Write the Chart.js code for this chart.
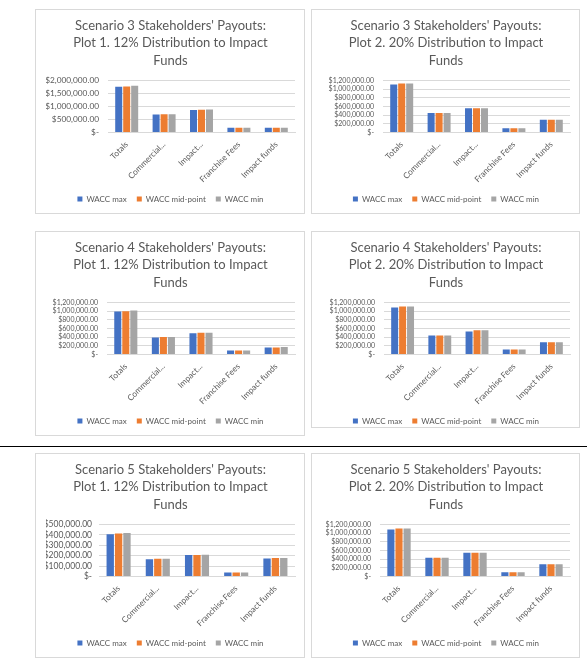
<!DOCTYPE html>
<html>
<head>
<meta charset="utf-8">
<script src="https://cdn.jsdelivr.net/npm/chart.js@4.4.1/dist/chart.umd.min.js"></script>
<style>
  body { margin: 0; background: #fff; }
  #page { position: relative; width: 587px; height: 669px; overflow: hidden; }
  .box { position: absolute; border: 1px solid #d9d9d9; box-sizing: border-box; }
  .box canvas { position: absolute; left: 0; top: 0; }
  .rule { position: absolute; left: 0; top: 446px; width: 587px; border-top: 1.5px solid #000; }
</style>
</head>
<body>
<div id="page">
  <div class="box" style="left:35px;top:9px;width:270px;height:205px"><canvas id="s3p1" width="268" height="203"></canvas></div>
  <div class="box" style="left:311px;top:9px;width:269px;height:205px"><canvas id="s3p2" width="267" height="203"></canvas></div>
  <div class="box" style="left:35px;top:231px;width:270px;height:205px"><canvas id="s4p1" width="268" height="203"></canvas></div>
  <div class="box" style="left:311px;top:231px;width:269px;height:197px"><canvas id="s4p2" width="267" height="203"></canvas></div>
  <div class="rule"></div>
  <div class="box" style="left:35px;top:453px;width:270px;height:205px"><canvas id="s5p1" width="268" height="203"></canvas></div>
  <div class="box" style="left:311px;top:453px;width:269px;height:205px"><canvas id="s5p2" width="267" height="203"></canvas></div>
</div>
<script>
const categories = ['Totals', 'Commercial...', 'Impact...', 'Franchise Fees', 'Impact funds'];
const seriesNames = ['WACC max', 'WACC mid-point', 'WACC min'];
const seriesColors = ['#4472C4', '#ED7D31', '#A5A5A5'];

const plot1Title = ['Plot 1. 12% Distribution to Impact', 'Funds'];
const plot2Title = ['Plot 2. 20% Distribution to Impact', 'Funds'];

// Scenario 3
const s3p1Max = [1763000, 697000, 868000, 180000, 180000];
const s3p1Mid = [1768000, 700000, 878000, 182000, 182000];
const s3p1Min = [1795000, 705000, 885000, 182000, 182000];

const s3p2Max = [1105000, 450000, 560000, 100000, 295000];
const s3p2Mid = [1130000, 452000, 562000, 100000, 295000];
const s3p2Min = [1130000, 452000, 562000, 100000, 295000];

// Scenario 4
const s4p1Max = [990000, 390000, 490000, 92000, 160000];
const s4p1Mid = [1000000, 405000, 500000, 92000, 162000];
const s4p1Min = [1015000, 405000, 500000, 92000, 175000];

const s4p2Max = [1085000, 440000, 530000, 115000, 285000];
const s4p2Mid = [1110000, 440000, 560000, 115000, 285000];
const s4p2Min = [1110000, 440000, 560000, 115000, 285000];

// Scenario 5
const s5p1Max = [406000, 165000, 206000, 39000, 174000];
const s5p1Mid = [413000, 171000, 206000, 39000, 177000];
const s5p1Min = [419000, 171000, 210000, 39000, 177000];

const s5p2Max = [1084000, 434000, 550000, 100000, 280000];
const s5p2Mid = [1107000, 434000, 550000, 100000, 280000];
const s5p2Min = [1107000, 434000, 550000, 100000, 280000];

Chart.defaults.font.family = 'Lato, "Open Sans", sans-serif';
Chart.defaults.color = '#595959';

function money(v) {
  if (v === 0) return '$-';
  return '$' + v.toLocaleString('en-US', { minimumFractionDigits: 2, maximumFractionDigits: 2 });
}

// one Excel-style clustered bar chart
function drawPayoutChart(id, titleLines, series, yMax, yStep, plotLeft, yFont, yPad) {
  const canvas = document.getElementById(id);
  const legendFont = 8;
  const legendPad = 10;
  const legendHeight = legendFont + legendPad + 10;
  const plotBottom = 122.5;
  const padLeft = 10;

  new Chart(canvas, {
    type: 'bar',
    data: {
      labels: categories,
      datasets: series.map((values, i) => ({
        label: seriesNames[i],
        data: values,
        backgroundColor: seriesColors[i],
        categoryPercentage: 0.64,
        barPercentage: 0.88,
      })),
    },
    options: {
      responsive: false,
      animation: false,
      layout: { padding: { left: padLeft, right: 9, top: 0, bottom: 0 } },
      plugins: {
        title: {
          display: true,
          text: titleLines,
          color: '#595959',
          font: { size: 13, weight: 'normal', lineHeight: 1.327 },
          padding: { top: 7.4, bottom: 11.35 },
        },
        legend: {
          position: 'bottom',
          labels: { boxWidth: 5, boxHeight: 5, padding: legendPad, color: '#595959', font: { size: legendFont } },
        },
        tooltip: { enabled: false },
      },
      scales: {
        x: {
          grid: { display: false, drawTicks: false },
          border: { color: '#d9d9d9' },
          ticks: { autoSkip: false, minRotation: 45, maxRotation: 45, padding: 7, color: '#595959', font: { size: 8.3 } },
          afterFit: (scale) => { scale.height = canvas.height - legendHeight - plotBottom; },
        },
        y: {
          min: 0,
          max: yMax,
          grid: { color: '#d9d9d9', drawTicks: false },
          border: { display: false },
          ticks: { stepSize: yStep, autoSkip: false, padding: yPad, color: '#595959', font: { size: yFont }, callback: (v) => money(v) },
          afterFit: (scale) => { scale.width = plotLeft - padLeft; },
        },
      },
    },
  });
}

drawPayoutChart('s3p1', ["Scenario 3 Stakeholders' Payouts:", ...plot1Title], [s3p1Max, s3p1Mid, s3p1Min], 2000000, 500000, 72, 8.3, 9);
drawPayoutChart('s3p2', ["Scenario 3 Stakeholders' Payouts:", ...plot2Title], [s3p2Max, s3p2Mid, s3p2Min], 1200000, 200000, 71, 7, 9);
drawPayoutChart('s4p1', ["Scenario 4 Stakeholders' Payouts:", ...plot1Title], [s4p1Max, s4p1Mid, s4p1Min], 1200000, 200000, 71, 7, 9);
drawPayoutChart('s4p2', ["Scenario 4 Stakeholders' Payouts:", ...plot2Title], [s4p2Max, s4p2Mid, s4p2Min], 1200000, 200000, 72, 7, 9);
drawPayoutChart('s5p1', ["Scenario 5 Stakeholders' Payouts:", ...plot1Title], [s5p1Max, s5p1Mid, s5p1Min], 500000, 100000, 63, 8.5, 7);
drawPayoutChart('s5p2', ["Scenario 5 Stakeholders' Payouts:", ...plot2Title], [s5p2Max, s5p2Mid, s5p2Min], 1200000, 200000, 68, 7, 9);
</script>
</body>
</html>
